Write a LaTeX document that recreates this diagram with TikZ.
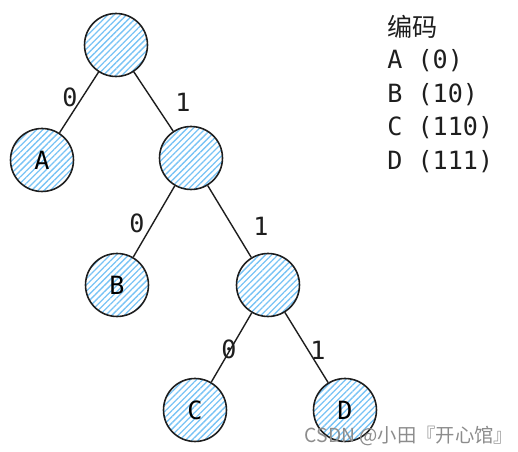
\documentclass[tikz,border=0pt]{standalone}
\usepackage{fontspec}
\setmonofont{DejaVu Sans Mono}
\newfontfamily\cjk{Noto Sans CJK SC}
\usepackage{tikz}
\usetikzlibrary{positioning,patterns.meta}

\definecolor{hatchblue}{RGB}{120,195,245}
\definecolor{inkgray}{RGB}{30,30,30}

\tikzset{
  leaf/.style={circle,draw=inkgray,line width=0.9pt,minimum size=1.26cm,inner sep=0pt,
    pattern={Lines[angle=45,distance=2.5pt,line width=0.75pt]},pattern color=hatchblue,
    font=\ttfamily\fontsize{14.3}{17}\selectfont},
  bit/.style={font=\ttfamily\fontsize{14.3}{17}\selectfont,text=inkgray},
  code/.style={anchor=west,font=\ttfamily\fontsize{14.3}{17}\selectfont,text=inkgray,inner sep=0pt},
}

\begin{document}
\begin{tikzpicture}[x=0.02cm,y=-0.02cm,>=latex,line join=bevel,]
  \useasboundingbox (0,0) rectangle (518,452);

  \node (node_0) at (116,45) [leaf] {};
  \node (node_a) at (42,160) [leaf] {A};
  \node (node_1) at (191,158) [leaf] {};
  \node (node_b) at (117,285) [leaf] {B};
  \node (node_2) at (268,285) [leaf] {};
  \node (node_c) at (195,410) [leaf] {C};
  \node (node_d) at (345,410) [leaf] {D};

  \draw [inkgray,line width=0.8pt] (node_0) edge (node_a);
  \draw [inkgray,line width=0.8pt] (node_0) edge (node_1);
  \draw [inkgray,line width=0.8pt] (node_1) edge (node_b);
  \draw [inkgray,line width=0.8pt] (node_1) edge (node_2);
  \draw [inkgray,line width=0.8pt] (node_2) edge (node_c);
  \draw [inkgray,line width=0.8pt] (node_2) edge (node_d);

  \node (bit_0a) at (70,97) [bit] {0};
  \node (bit_01) at (183,102) [bit] {1};
  \node (bit_1b) at (137,223) [bit] {0};
  \node (bit_12) at (261,226) [bit] {1};
  \node (bit_2c) at (229,349) [bit] {0};
  \node (bit_2d) at (318,350) [bit] {1};

  \node (code_title) at (387,27) [code] {\cjk 编码};
  \node (code_a) at (387,61) [code] {A (0)};
  \node (code_b) at (387,95) [code] {B (10)};
  \node (code_c) at (387,128) [code] {C (110)};
  \node (code_d) at (387,162) [code] {D (111)};

  \node (mark) at (409,436) [font=\cjk\fontsize{11}{13}\selectfont,text=black!45] {CSDN @小田『开心馆』};
%
\end{tikzpicture}
\end{document}
